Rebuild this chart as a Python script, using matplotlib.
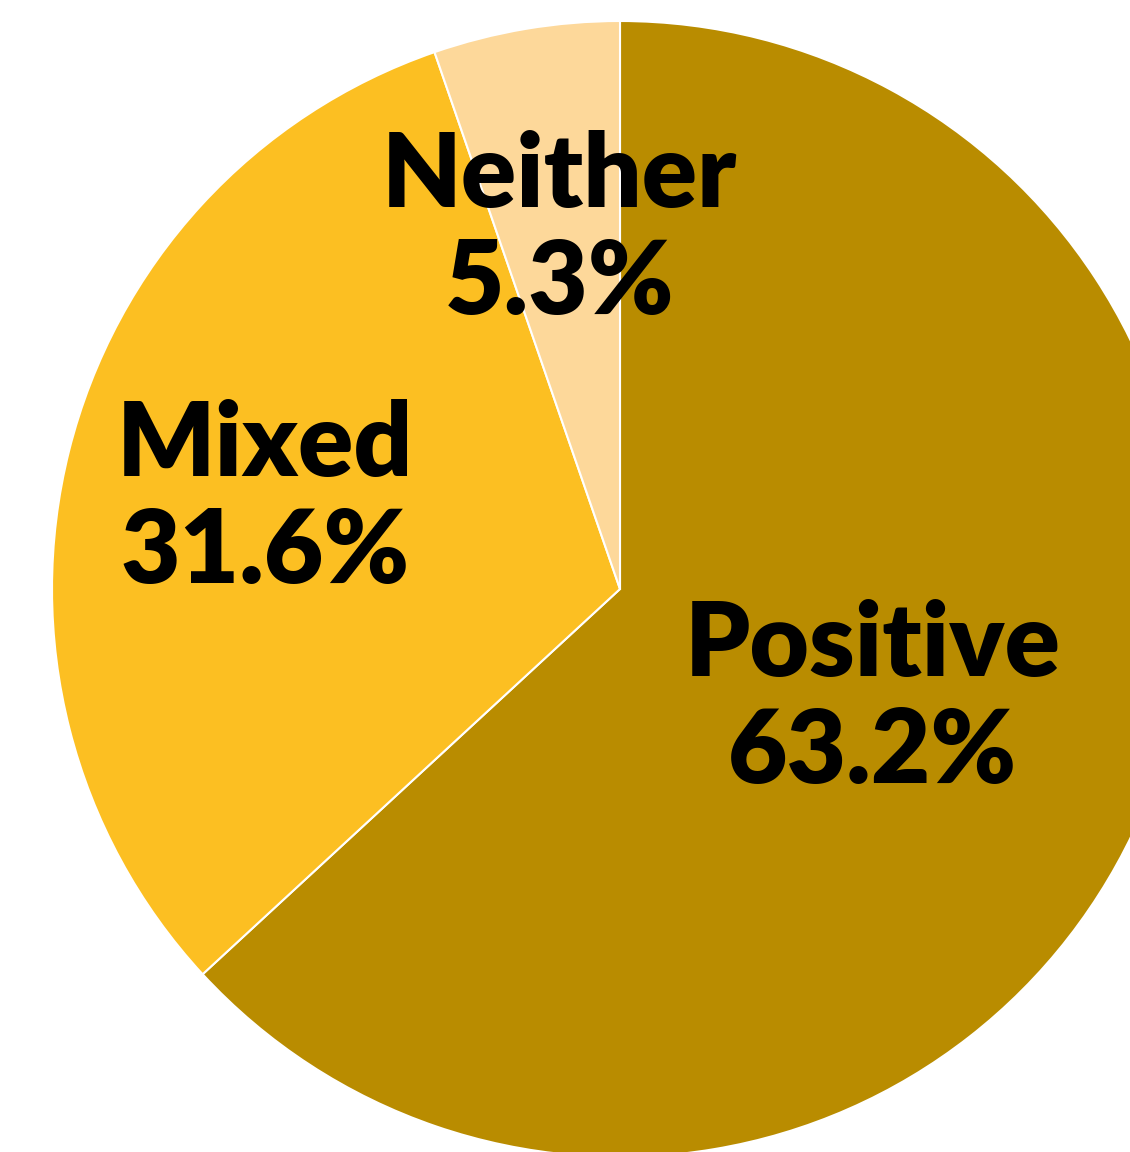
import matplotlib.pyplot as plt
import numpy as np

# data
labels = ['Positive', 'Mixed', 'Neither']
shares = [63.2, 31.6, 5.3]
colors = ['#B98C00', '#FCBF22', '#FDD89A']
label_radius = [0.485, 0.645, 0.64]

fig = plt.figure(figsize=(11.3, 11.52), dpi=100)
ax = fig.add_axes([0, 0, 1, 1])

cx, cy, r = 620, 563, 568
wedges, _ = ax.pie(shares, colors=colors, startangle=90, counterclock=False,
                   center=(cx, cy), radius=r, normalize=True,
                   wedgeprops=dict(edgecolor='white', linewidth=1.5))

for w, lab, val, lr in zip(wedges, labels, shares, label_radius):
    mid = np.deg2rad((w.theta1 + w.theta2) / 2)
    x = cx + lr * r * np.cos(mid)
    y = cy + lr * r * np.sin(mid)
    ax.text(x, y, f'{lab}\n{val:.1f}%', ha='center', va='center',
            fontsize=74, fontweight='heavy', family=['Lato', 'DejaVu Sans'],
            linespacing=1.17, color='black')

ax.set_xlim(0, 1130)
ax.set_ylim(0, 1152)
ax.set_aspect('equal')
ax.axis('off')

fig.savefig('out.png', dpi=100)
